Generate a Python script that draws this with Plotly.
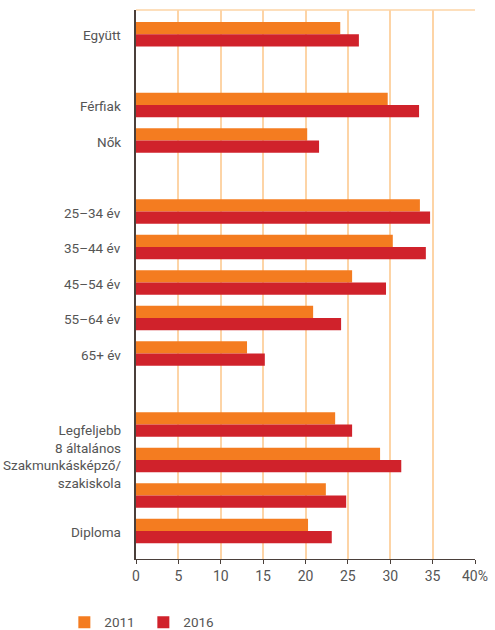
import plotly.graph_objects as go

# Category ids (spacers are blank rows between groups)
categories = ["Együtt", "sp1", "Férfiak", "Nők", "sp2",
              "25–34 év", "35–44 év", "45–54 év", "55–64 év", "65+ év", "sp3",
              "Legfeljebb 8 általános", "Szakmunkásképző/szakiskola", "Érettségi", "Diploma"]
# Visible labels (third education row has no visible label in the original)
labels = ["Együtt", "", "Férfiak", "Nők", "",
          "25–34 év", "35–44 év", "45–54 év", "55–64 év", "65+ év", "",
          "Legfeljebb<br>8 általános", "Szakmunkásképző/<br>szakiskola", "", "Diploma"]
values_2011 = [24.1, None, 29.7, 20.2, None, 33.5, 30.3, 25.5, 20.9, 13.1, None, 23.5, 28.8, 22.4, 20.3]
values_2016 = [26.3, None, 33.4, 21.6, None, 34.7, 34.2, 29.5, 24.2, 15.2, None, 25.5, 31.3, 24.8, 23.1]
x_ticks = [0, 5, 10, 15, 20, 25, 30, 35, 40]
x_ticktext = ["0", "5", "10", "15", "20", "25", "30", "35", "40%"]

ORANGE = "#f47c20"
RED = "#d0222b"
TEXT = "#555555"
GRID = "#fdd4a6"
AXIS = "#4a3f3a"
FONT = "Roboto, Liberation Sans, sans-serif"

fig = go.Figure()
fig.add_trace(go.Bar(y=categories, x=values_2011, orientation="h", name="2011",
                     marker=dict(color=ORANGE, line=dict(width=0))))
fig.add_trace(go.Bar(y=categories, x=values_2016, orientation="h", name="2016",
                     marker=dict(color=RED, line=dict(width=0))))

# y labels as annotations (multi-line ones sit slightly lower, as in the original)
for cat, lab in zip(categories, labels):
    if not lab:
        continue
    shift = -14 if "<br>" in lab else -1
    fig.add_annotation(x=0, xref="paper", y=cat, yref="y", text=lab,
                       xanchor="right", yanchor="middle", xshift=-13, yshift=shift,
                       showarrow=False, align="right",
                       font=dict(family=FONT, size=13.5, color=TEXT))

# light top border
fig.add_shape(type="line", xref="x", yref="paper", x0=0, x1=40, y0=1, y1=1,
              line=dict(color=GRID, width=1.5))

fig.update_layout(
    width=495, height=630,
    margin=dict(l=136, r=20, t=10, b=71, autoexpand=False),
    paper_bgcolor="white", plot_bgcolor="white",
    barmode="group", bargap=0.31, bargroupgap=0,
    font=dict(family=FONT, size=13.5, color=TEXT),
    showlegend=True,
    legend=dict(orientation="h", xref="container", yref="container",
                x=0.13, xanchor="left", y=0.012, yanchor="middle",
                font=dict(family=FONT, size=13.5, color=TEXT),
                entrywidth=34, entrywidthmode="pixels", traceorder="normal",
                itemwidth=30),
    xaxis=dict(range=[0, 40], tickvals=x_ticks, ticktext=x_ticktext,
               showgrid=True, gridcolor=GRID, gridwidth=1.5,
               showline=True, linecolor=AXIS, linewidth=1.2,
               ticks="outside", ticklen=4, tickcolor=AXIS, tickwidth=1,
               zeroline=False, fixedrange=True, automargin=False,
               tickfont=dict(family=FONT, size=14, color=TEXT)),
    yaxis=dict(categoryorder="array", categoryarray=categories,
               range=[14.79, -0.68], showticklabels=False, ticks="",
               showgrid=False, showline=True, linecolor=AXIS, linewidth=1.5,
               zeroline=False, fixedrange=True, automargin=False),
)

fig.write_html("out.html", config={"displayModeBar": False},
               post_script="document.body.style.margin='0';document.body.style.overflow='hidden';")
